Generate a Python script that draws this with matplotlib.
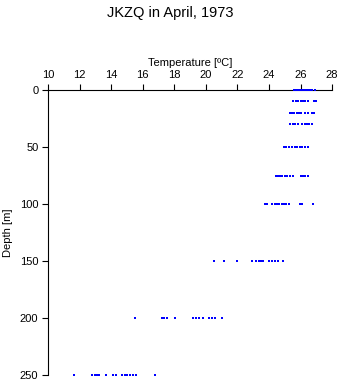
import numpy as np
import matplotlib.pyplot as plt

# Профиль температуры JKZQ, апрель 1973
depths = [0, 10, 20, 30, 50, 75, 100, 150, 200, 250]
temps = [
    [25.6, 25.7, 25.8, 25.9, 26.0, 26.1, 26.2, 26.3, 26.4, 26.5, 26.6, 26.7, 26.9],
    [25.55, 25.7, 25.85, 26.0, 26.15, 26.3, 26.45, 26.85, 26.95],
    [25.3, 25.45, 25.6, 25.75, 25.9, 26.0, 26.25, 26.45, 26.7, 26.85],
    [25.35, 25.5, 25.65, 25.85, 26.1, 26.25, 26.4, 26.55, 26.7],
    [24.95, 25.1, 25.25, 25.45, 25.65, 25.75, 25.95, 26.1, 26.25, 26.45],
    [24.45, 24.55, 24.7, 24.85, 25.0, 25.15, 25.3, 25.5, 26.0, 26.15, 26.3, 26.45],
    [23.75, 23.85, 24.2, 24.35, 24.5, 24.65, 24.8, 24.95, 25.1, 25.25, 25.95, 26.1, 26.8],
    [20.5, 21.15, 22.0, 22.95, 23.15, 23.35, 23.5, 23.65, 24.0, 24.2, 24.35, 24.55, 24.9],
    [15.5, 17.2, 17.35, 17.55, 18.05, 19.2, 19.35, 19.55, 19.8, 20.2, 20.4, 20.55, 21.05],
    [11.65, 12.8, 12.95, 13.1, 13.25, 13.65, 14.1, 14.3, 14.7, 14.85, 15.0, 15.2, 15.4, 15.6, 16.8],
]

plt.rcParams['font.family'] = ['Liberation Sans', 'DejaVu Sans']

fig = plt.figure(figsize=(3.41, 3.84), dpi=100)
ax = fig.add_axes([0.141, 0.0234, 0.833, 0.7422])

for d, t in zip(depths, temps):
    ax.plot(t, [d] * len(t), 's', color='blue', markersize=2.0, markeredgewidth=0,
            clip_on=False, zorder=5)

ax.set_xlim(10, 28)
ax.set_ylim(250, 0)
ax.set_xticks(np.arange(10, 29, 2))
ax.set_yticks([0, 50, 100, 150, 200, 250])
ax.xaxis.tick_top()
ax.xaxis.set_label_position('top')
ax.set_xlabel('Temperature [ºC]', fontsize=8, labelpad=3)
ax.set_ylabel('Depth [m]', fontsize=8, labelpad=5)
ax.tick_params(labelsize=8, length=4, width=0.8, pad=3, direction='out')
ax.spines['right'].set_visible(False)
ax.spines['bottom'].set_visible(False)
for s in ['top', 'left']:
    ax.spines[s].set_linewidth(0.8)

fig.suptitle('JKZQ in April, 1973', fontsize=10.5, y=0.985)

fig.savefig('out.png', dpi=100)
